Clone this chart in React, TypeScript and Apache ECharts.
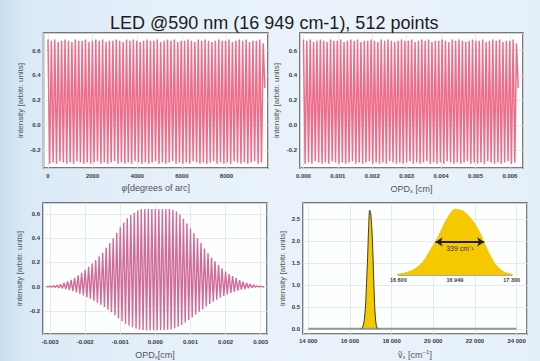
import React, { useEffect, useRef } from 'react';
import * as echarts from 'echarts';

const TITLE = 'LED @590 nm (16 949 cm-1), 512 points';
const Y_NAME = 'intensity [arbitr. units]';
const FONT = '"Liberation Sans", Arial, sans-serif';

// Top interferograms (same signal, two x units): fringe maxima / minima
const TOP_PEAKS = [
  0.69, 0.68, 0.69, 0.67, 0.68, 0.69, 0.68, 0.67, 0.69, 0.68, 0.68, 0.69, 0.67, 0.68, 0.69, 0.68,
  0.69, 0.67, 0.68, 0.68, 0.69, 0.68, 0.67, 0.69, 0.68, 0.69, 0.68, 0.67, 0.68, 0.69, 0.68, 0.68,
  0.69, 0.67, 0.68, 0.69, 0.68, 0.69, 0.67, 0.68, 0.68, 0.69, 0.68, 0.67, 0.69, 0.68, 0.69, 0.68,
  0.67, 0.68, 0.69, 0.68, 0.68, 0.69, 0.67, 0.68, 0.69, 0.68, 0.69, 0.67, 0.68, 0.68, 0.69, 0.66,
];
const TOP_TROUGHS = [
  -0.31, -0.30, -0.31, -0.29, -0.30, -0.31, -0.30, -0.31, -0.29, -0.30, -0.31, -0.30, -0.31, -0.30, -0.29, -0.31,
  -0.30, -0.31, -0.30, -0.29, -0.31, -0.30, -0.31, -0.30, -0.31, -0.29, -0.30, -0.31, -0.30, -0.31, -0.30, -0.29,
  -0.31, -0.30, -0.31, -0.30, -0.29, -0.31, -0.30, -0.31, -0.30, -0.31, -0.29, -0.30, -0.31, -0.30, -0.31, -0.30,
  -0.29, -0.31, -0.30, -0.31, -0.30, -0.31, -0.29, -0.30, -0.31, -0.30, -0.31, -0.30, -0.29, -0.31, -0.30, 0.30,
];
const PHI_END = 9720;
const OPD_END = 0.00624;

// Bottom-left: centred interferogram, fringe maxima at BL_START + i*BL_STEP, minima half-way
const BL_START = -0.0031;
const BL_STEP = 0.0001;
const BL_UPPER = [
  0, 0.004, 0.008, 0.013, 0.02, 0.03, 0.043, 0.057, 0.074, 0.093, 0.115, 0.14, 0.165, 0.19, 0.22, 0.25,
  0.28, 0.32, 0.36, 0.40, 0.445, 0.49, 0.53, 0.565, 0.59, 0.61, 0.63, 0.64, 0.64, 0.64, 0.64, 0.64,
  0.64, 0.64, 0.64, 0.64, 0.635, 0.62, 0.595, 0.56, 0.52, 0.48, 0.44, 0.40, 0.36, 0.315, 0.275, 0.24,
  0.21, 0.18, 0.15, 0.125, 0.105, 0.088, 0.07, 0.055, 0.042, 0.031, 0.022, 0.014, 0.008, 0.004, 0,
];
const BL_LOWER = [
  -0.001, -0.003, -0.006, -0.009, -0.014, -0.02, -0.028, -0.037, -0.047, -0.058, -0.072, -0.086, -0.1, -0.115, -0.132, -0.149,
  -0.168, -0.19, -0.21, -0.235, -0.26, -0.285, -0.305, -0.322, -0.335, -0.345, -0.352, -0.357, -0.36, -0.36, -0.36,
  -0.36, -0.36, -0.358, -0.355, -0.35, -0.342, -0.33, -0.315, -0.296, -0.275, -0.252, -0.23, -0.207, -0.185, -0.163,
  -0.143, -0.124, -0.107, -0.09, -0.076, -0.063, -0.052, -0.042, -0.033, -0.025, -0.019, -0.013, -0.009, -0.005, -0.003, -0.001,
];

// Spectrum
const SPEC_X = [16550, 16600, 16650, 16700, 16750, 16800, 16850, 16900, 16950, 17000, 17050, 17100, 17150, 17200, 17250, 17300, 17350];
const SPEC_Y = [0, 0.03, 0.10, 0.24, 0.52, 1.05, 1.62, 2.30, 2.70, 2.62, 2.30, 1.78, 1.02, 0.43, 0.13, 0.03, 0];
const BASE_X = [14000, 24000];
const INSET_TICKS = [16600, 16949, 17300];
const FWHM_X = [16830, 17130];
const FWHM_Y = 1.36;
const FWHM_LABEL = '339 cm⁻¹';

const isMult = (v: number, s: number) => Math.abs(v / s - Math.round(v / s)) < 1e-6;
const spaced = (v: number) => String(Math.round(v)).replace(/\B(?=(\d{3})+(?!\d))/g, ' ');
const fmtY = (step: number) => (v: number) => (isMult(v, step) ? (Math.abs(v) < 1e-9 ? 0 : v).toFixed(1) : '');

function topPoints(end: number) {
  const n = Math.min(TOP_PEAKS.length, TOP_TROUGHS.length);
  const step = end / (2 * n - 1);
  const pts: number[][] = [];
  for (let i = 0; i < n; i++) {
    pts.push([2 * i * step, TOP_PEAKS[i]]);
    pts.push([(2 * i + 1) * step, TOP_TROUGHS[i]]);
  }
  return pts;
}

function blPoints() {
  const pts: number[][] = [];
  for (let i = 0; i < BL_UPPER.length; i++) {
    pts.push([BL_START + i * BL_STEP, BL_UPPER[i]]);
    if (i < BL_LOWER.length) pts.push([BL_START + (i + 0.5) * BL_STEP, BL_LOWER[i]]);
  }
  return pts;
}

const labelStyle = { fontSize: 6, color: '#3a3a3a', fontWeight: 'bold' as const, fontFamily: FONT };
const splitLine = { show: true, lineStyle: { color: '#dfe4e8', width: 0.8 } };
const nameStyle = {
  fontSize: 9,
  color: '#555',
  fontFamily: FONT,
  rich: {
    n: { fontSize: 9, color: '#555', fontFamily: FONT },
    i: { fontSize: 9, color: '#555', fontFamily: FONT, fontStyle: 'italic' },
    s: { fontSize: 6, color: '#555', fontFamily: FONT, verticalAlign: 'bottom', padding: [5, 0, 0, 0] },
    p: { fontSize: 6, color: '#555', fontFamily: FONT, verticalAlign: 'top', padding: [0, 0, 5, 0] },
  },
};

function xAxis(gridIndex: number, min: number, max: number, split: number, name: string, fmt: (v: number) => string, margin = 5) {
  return {
    type: 'value', gridIndex, min, max, splitNumber: split,
    name, nameLocation: 'middle', nameGap: 15, nameTextStyle: nameStyle,
    axisLine: { show: false }, axisTick: { show: false }, splitLine,
    axisLabel: { ...labelStyle, margin, formatter: fmt },
  };
}
function yAxis(gridIndex: number, min: number, max: number, split: number, fmt: (v: number) => string, gap = 21) {
  return {
    type: 'value', gridIndex, min, max, splitNumber: split,
    name: Y_NAME, nameLocation: 'middle', nameGap: gap, nameRotate: 90,
    nameTextStyle: { fontSize: 8, color: '#555', fontFamily: FONT },
    axisLine: { show: false }, axisTick: { show: false }, splitLine,
    axisLabel: { ...labelStyle, margin: 3, formatter: fmt },
  };
}

export default function App() {
  const ref = useRef<HTMLDivElement>(null);
  useEffect(() => {
    document.body.style.margin = '0';
    if (!ref.current) return;
    const chart = echarts.init(ref.current, null, { renderer: 'svg' });
    const frame = { show: true, backgroundColor: '#fdfefe', borderColor: '#505050', borderWidth: 1.5 };
    chart.setOption({
      animation: false,
      backgroundColor: 'transparent',
      textStyle: { fontFamily: FONT },
      title: {
        text: TITLE, left: 105, top: 9,
        textStyle: { fontSize: 18, fontWeight: 'normal', color: '#1c1c1c', fontFamily: FONT },
      },
      grid: [
        { ...frame, left: 43.5, top: 33, width: 224.5, height: 135 },
        { ...frame, left: 300, top: 33, width: 223, height: 135 },
        { ...frame, left: 43, top: 203, width: 224, height: 136 },
        { ...frame, left: 303, top: 203, width: 224, height: 135 },
        { show: false, left: 398.3, top: 205, width: 113.4, height: 70 },
      ],
      xAxis: [
        xAxis(0, -200, 9860, 5, '{i|φ}{n|[degrees of arc]}', (v) => (isMult(v, 2000) ? String(v) : '')),
        xAxis(1, -0.0001, 0.00638, 6, '{n|OPD}{s|x}{n| [cm]}', (v) => (isMult(v, 0.001) ? (Math.abs(v) < 1e-9 ? 0 : v).toFixed(3) : '')),
        xAxis(2, -0.0032, 0.00318, 6, '{n|OPD}{s|x}{n|[cm]}', (v) => (isMult(v, 0.001) ? (Math.abs(v) < 1e-9 ? 0 : v).toFixed(3) : ''), 5),
        xAxis(3, 13750, 24500, 5, '{n|ṽ}{s|x}{n| [cm}{p|−1}{n|]}', (v) => (isMult(v, 2000) ? spaced(v) : ''), 4),
        {
          type: 'value', gridIndex: 4, min: 16600, max: 17300,
          axisLine: { show: true, lineStyle: { color: '#8a8f8c', width: 1.5 } },
          axisTick: { show: false }, splitLine: { show: false },
          axisLabel: { ...labelStyle, fontSize: 5.5, margin: 2, customValues: INSET_TICKS, formatter: (v: number) => spaced(v) },
        },
      ],
      yAxis: [
        yAxis(0, -0.345, 0.742, 5, fmtY(0.2), 19),
        yAxis(1, -0.345, 0.742, 5, fmtY(0.2), 20),
        yAxis(2, -0.39, 0.69, 5, fmtY(0.2), 20),
        yAxis(3, -0.117, 2.86, 5, fmtY(0.5), 17),
        { type: 'value', gridIndex: 4, min: 0, max: 2.88, show: false },
      ],
      series: [
        {
          type: 'line', xAxisIndex: 0, yAxisIndex: 0, data: topPoints(PHI_END), symbol: 'none',
          lineStyle: { color: '#ee6d8a', width: 1.5 },
        },
        {
          type: 'line', xAxisIndex: 1, yAxisIndex: 1, data: topPoints(OPD_END), symbol: 'none',
          lineStyle: { color: '#ee6d8a', width: 1.5 },
        },
        {
          type: 'line', xAxisIndex: 2, yAxisIndex: 2, data: blPoints(), symbol: 'none',
          lineStyle: { color: '#d06c98', width: 1.4 },
        },
        {
          type: 'line', xAxisIndex: 3, yAxisIndex: 3, data: BASE_X.map((x) => [x, 0]), symbol: 'none',
          lineStyle: { color: '#8d9a92', width: 2 },
        },
        {
          type: 'line', xAxisIndex: 3, yAxisIndex: 3, data: SPEC_X.map((x, i) => [x, SPEC_Y[i]]), symbol: 'none',
          smooth: 0.3, lineStyle: { color: '#3e3d22', width: 1 }, areaStyle: { color: '#f3ca00', opacity: 1 },
        },
        {
          type: 'line', xAxisIndex: 4, yAxisIndex: 4, data: SPEC_X.map((x, i) => [x, SPEC_Y[i]]), symbol: 'none',
          smooth: 0.3, lineStyle: { color: '#f3c600', width: 1 }, areaStyle: { color: '#f5c800', opacity: 1 },
          markLine: {
            silent: true, symbol: ['arrow', 'arrow'], symbolSize: [7, 7],
            lineStyle: { color: '#222', width: 2, type: 'solid' },
            label: { show: true, position: 'insideMiddleBottom', formatter: FWHM_LABEL, fontSize: 7, color: '#333', fontFamily: FONT, distance: 3 },
            data: [[{ coord: [FWHM_X[0], FWHM_Y] }, { coord: [FWHM_X[1], FWHM_Y] }]],
          },
        },
      ],
    });
    return () => chart.dispose();
  }, []);
  return (
    <div
      style={{
        width: 540, height: 361,
        background: 'linear-gradient(90deg, #c8dff2 0%, #dbeaf7 5%, #e7f1fa 35%, #eaf3fa 70%, #e4eff8 100%)',
      }}
    >
      <div ref={ref} style={{ width: 540, height: 361 }} />
    </div>
  );
}
